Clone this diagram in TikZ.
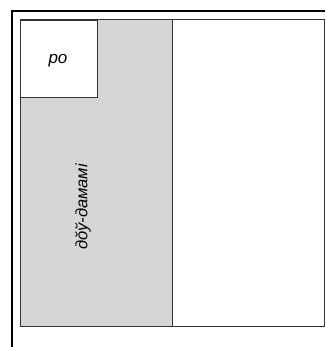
\documentclass[tikz,border=0pt]{standalone}
\usepackage{fontspec}
\setmainfont{Liberation Sans}
\begin{document}
\begin{tikzpicture}[x=1pt,y=-1pt,
  frame/.style={line width=2.6pt,black},
  panel/.style={draw=black!80,line width=1pt},
  shade/.style={panel,fill=black!16},
  lbl/.style={font=\itshape\fontsize{17}{19}\selectfont,inner sep=0pt}]
\useasboundingbox (0,0) rectangle (325,347);
\draw[frame] (12,347) -- (12,11) -- (325,11);
\draw[shade] (20,20) rectangle (172,326);
\node[panel,fill=white,minimum width=77pt,minimum height=77pt,anchor=north west,inner sep=0pt] (po) at (20,20) {};
\node[lbl] (potext) at (58,61) {po};
\draw[panel] (172,20) rectangle (324,326);
\node[lbl,rotate=90,font=\itshape\fontsize{16.5}{18}\selectfont] (side) at (83,207) {дŏў-дамамі};
\end{tikzpicture}
\end{document}
